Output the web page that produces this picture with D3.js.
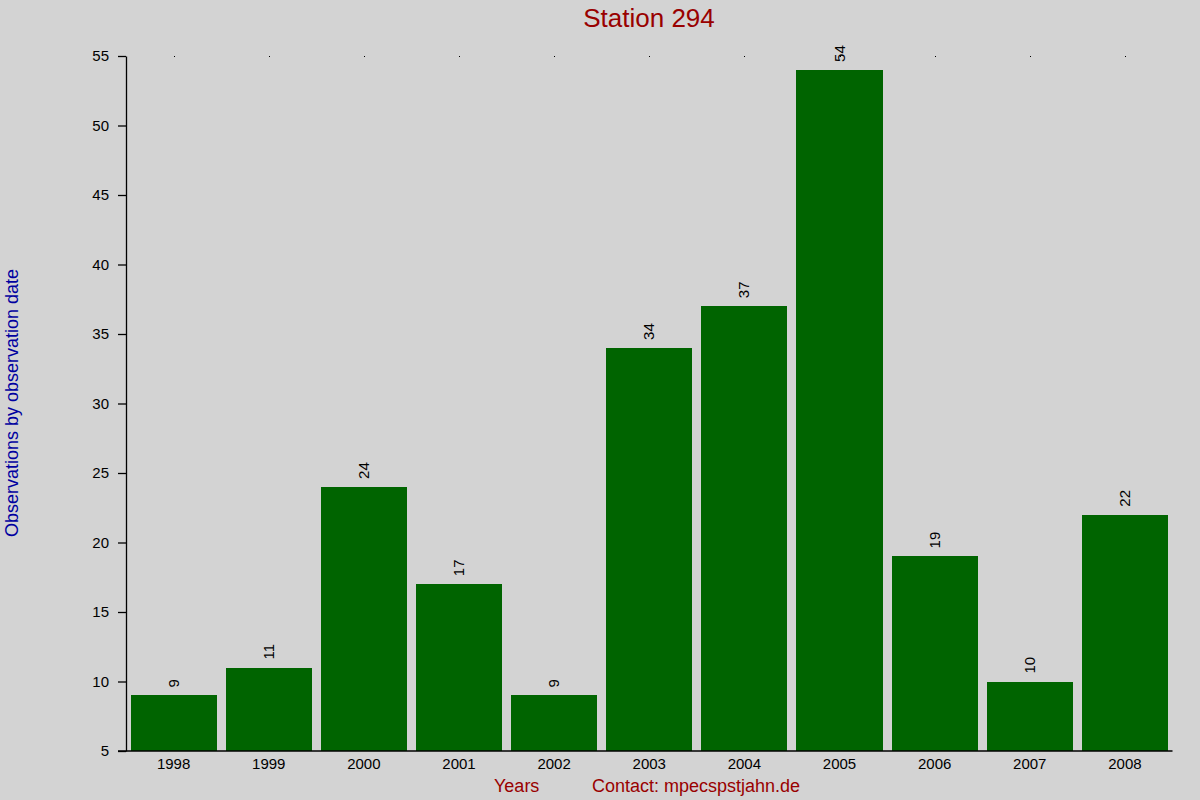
<!DOCTYPE html>
<html>
<head>
<meta charset="utf-8">
<script src="https://cdn.jsdelivr.net/npm/d3@7"></script>
<style>
  body { margin: 0; background: #d3d3d3; }
  svg { display: block; font-family: "Liberation Sans", Arial, sans-serif; }
</style>
</head>
<body>
<svg id="chart" width="1200" height="800"></svg>
<script>
// chart data
const years = ["1998", "1999", "2000", "2001", "2002", "2003", "2004", "2005", "2006", "2007", "2008"];
const counts = [9, 11, 24, 17, 9, 34, 37, 54, 19, 10, 22];
const yTicks = [5, 10, 15, 20, 25, 30, 35, 40, 45, 50, 55];

const width = 1200, height = 800;
const plotLeft = 126, plotRight = 1172.5, plotTop = 56, plotBottom = 751;

const svg = d3.select("#chart");

svg.append("rect")
    .attr("width", width)
    .attr("height", height)
    .attr("fill", "#d3d3d3");

const x = d3.scaleBand()
    .domain(years)
    .range([plotLeft, plotRight])
    .paddingInner(0.095)
    .paddingOuter(0.048);

const y = d3.scaleLinear()
    .domain([5, 55])
    .range([plotBottom, plotTop]);

// bars
svg.append("g")
    .attr("shape-rendering", "crispEdges")
    .selectAll("rect")
    .data(years)
    .join("rect")
    .attr("x", d => x(d))
    .attr("width", x.bandwidth())
    .attr("y", (d, i) => y(counts[i]))
    .attr("height", (d, i) => y(5) - y(counts[i]))
    .attr("fill", "#006400");

// tiny dots on the top edge
svg.append("g")
    .attr("shape-rendering", "crispEdges")
    .selectAll("rect")
    .data(years)
    .join("rect")
    .attr("x", d => Math.round(x(d) + x.bandwidth() / 2))
    .attr("y", plotTop)
    .attr("width", 1)
    .attr("height", 1)
    .attr("fill", "#000");

// value labels (rotated)
svg.append("g")
    .selectAll("text")
    .data(years)
    .join("text")
    .attr("transform", (d, i) => "translate(" + (x(d) + x.bandwidth() / 2 + 5) + "," + (y(counts[i]) - 8) + ") rotate(-90)")
    .attr("font-size", 15)
    .attr("fill", "#000")
    .text((d, i) => counts[i]);

// y axis
const yAxis = d3.axisLeft(y)
    .tickValues(yTicks)
    .tickSize(8)
    .tickPadding(9)
    .tickSizeOuter(0);

const gy = svg.append("g")
    .attr("transform", "translate(" + plotLeft + ",0)")
    .call(yAxis);
gy.select(".domain").attr("stroke", "#000").attr("stroke-width", 1.3);
gy.selectAll(".tick line").attr("stroke", "#000").attr("stroke-width", 1.3);
gy.selectAll(".tick text")
    .attr("font-size", 15)
    .attr("font-family", "Liberation Sans, Arial, sans-serif")
    .attr("fill", "#000");

// x axis
const xAxis = d3.axisBottom(x)
    .tickSize(0)
    .tickPadding(7)
    .tickSizeOuter(0);

const gx = svg.append("g")
    .attr("transform", "translate(0," + plotBottom + ")")
    .call(xAxis);
gx.select(".domain").remove();
gx.selectAll(".tick text")
    .attr("font-size", 15)
    .attr("font-family", "Liberation Sans, Arial, sans-serif")
    .attr("fill", "#000");

svg.append("line")
    .attr("x1", 118)
    .attr("x2", plotRight)
    .attr("y1", plotBottom)
    .attr("y2", plotBottom)
    .attr("stroke", "#000")
    .attr("stroke-width", 1.3);

// titles
svg.append("text")
    .attr("x", 649)
    .attr("y", 27)
    .attr("text-anchor", "middle")
    .attr("font-size", 26)
    .attr("fill", "#990000")
    .text("Station 294");

svg.append("text")
    .attr("transform", "translate(18,403) rotate(-90)")
    .attr("text-anchor", "middle")
    .attr("font-size", 18)
    .attr("fill", "#0000a0")
    .text("Observations by observation date");

svg.append("text")
    .attr("x", 494)
    .attr("y", 792)
    .attr("font-size", 18)
    .attr("fill", "#990000")
    .text("Years");

svg.append("text")
    .attr("x", 592)
    .attr("y", 792)
    .attr("font-size", 18)
    .attr("fill", "#990000")
    .text("Contact: mpecspstjahn.de");
</script>
</body>
</html>
